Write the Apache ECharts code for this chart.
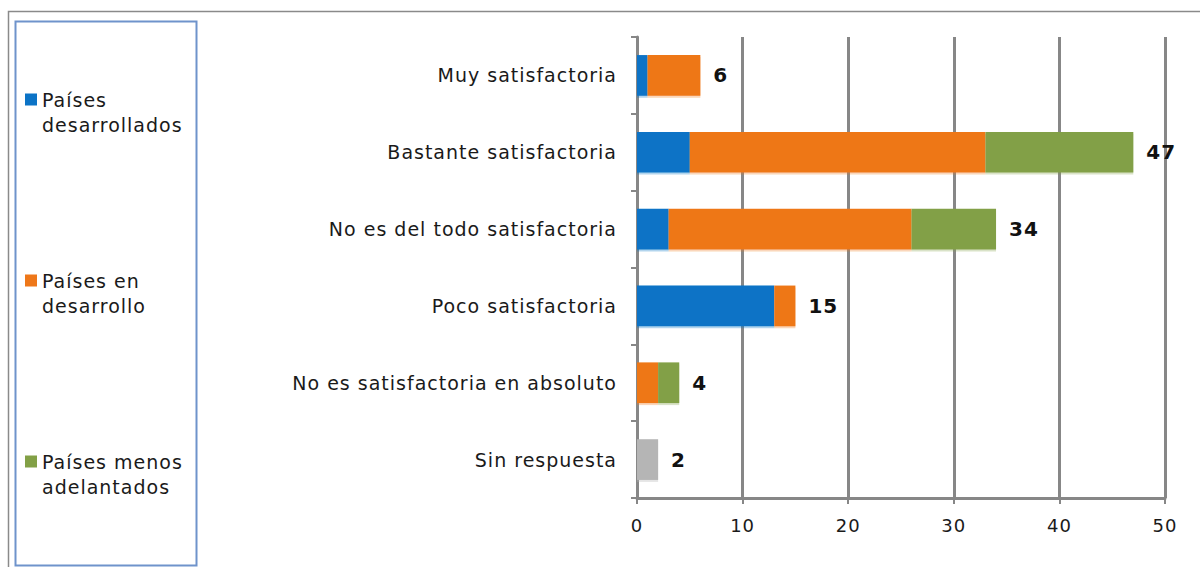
<!DOCTYPE html>
<html>
<head>
<meta charset="utf-8">
<script src="https://cdn.jsdelivr.net/npm/echarts@6/dist/echarts.min.js"></script>
<style>
html,body{margin:0;padding:0;background:#fff;}
#chart{width:1200px;height:567px;letter-spacing:1px;}
</style>
</head>
<body>
<div id="chart"></div>
<script>
var categories = ['Muy satisfactoria','Bastante satisfactoria','No es del todo satisfactoria','Poco satisfactoria','No es satisfactoria en absoluto','Sin respuesta'];
var desarrollados = [1, 5, 3, 13, 0, 0];
var enDesarrollo = [5, 28, 23, 2, 2, 0];
var menosAdelantados = [0, 14, 8, 0, 2, 0];
var sinRespuesta = [0, 0, 0, 0, 0, 2];
var totals = [6, 47, 34, 15, 4, 2];
var xTicks = [0, 10, 20, 30, 40, 50];
var legendNames = ['Países desarrollados','Países en desarrollo','Países menos adelantados'];
var legendLines = {'Países desarrollados':' \nPaíses\ndesarrollados','Países en desarrollo':' \nPaíses en\ndesarrollo','Países menos adelantados':' \nPaíses menos\nadelantados'};
var legendTops = [62, 243, 424];

var FONT = '"DejaVu Sans", Verdana, sans-serif';
var GRID = '#878787';
var chart = echarts.init(document.getElementById('chart'), null, {renderer: 'svg'});

function barSeries(name, data, color, shadow) {
  return {
    name: name, type: 'bar', stack: 'total', data: data,
    barWidth: '53%',
    itemStyle: {color: color, shadowColor: shadow, shadowBlur: 0, shadowOffsetY: 2},
    emphasis: {disabled: true},
    silent: true
  };
}

var legends = legendNames.map(function (n, i) {
  return {
    data: [n],
    orient: 'vertical',
    left: 25,
    top: legendTops[i],
    padding: 0,
    itemWidth: 12,
    itemHeight: 12,
    icon: 'rect',
    selectedMode: false,
    formatter: function (nm) { return legendLines[nm]; },
    textStyle: {fontFamily: FONT, fontSize: 19, color: '#1a1a1a', lineHeight: 25}
  };
});

chart.setOption({
  animation: false,
  backgroundColor: '#fff',
  textStyle: {fontFamily: FONT},
  graphic: [
    {type: 'rect', shape: {x: 8.5, y: 11.5, width: 1200, height: 600}, style: {fill: 'none', stroke: '#8a8a8a', lineWidth: 1.5}, z: -10},
    {type: 'rect', shape: {x: 15.5, y: 21.5, width: 181, height: 544}, style: {fill: 'none', stroke: '#6f93cb', lineWidth: 2}, z: -5}
  ],
  legend: legends,
  grid: {left: 637, right: 35, top: 37, bottom: 69, containLabel: false},
  xAxis: {
    type: 'value', min: 0, max: 50, interval: 10,
    axisLine: {show: true, lineStyle: {color: GRID, width: 3}},
    axisTick: {show: true, length: 6, lineStyle: {color: GRID, width: 2}},
    splitLine: {show: true, lineStyle: {color: GRID, width: 3}},
    axisLabel: {fontFamily: FONT, fontSize: 18, color: '#1a1a1a', margin: 18,
      formatter: function (v) { return xTicks.indexOf(v) >= 0 ? String(v) : ''; }}
  },
  yAxis: {
    type: 'category', data: categories, inverse: true,
    axisLine: {show: true, lineStyle: {color: GRID, width: 3}},
    axisTick: {show: true, length: 6, lineStyle: {color: GRID, width: 2}},
    axisLabel: {fontFamily: FONT, fontSize: 19, color: '#1a1a1a', margin: 20}
  },
  series: [
    barSeries('Países desarrollados', desarrollados, '#0b73c6', 'rgba(11,115,198,0.3)'),
    barSeries('Países en desarrollo', enDesarrollo, '#ee7719', 'rgba(238,119,25,0.3)'),
    barSeries('Países menos adelantados', menosAdelantados, '#82a046', 'rgba(130,160,70,0.3)'),
    barSeries('Sin respuesta', sinRespuesta, '#b5b5b5', 'rgba(181,181,181,0.35)'),
    {
      name: 'Total', type: 'bar', data: totals, barGap: '-100%', barWidth: '53%',
      itemStyle: {color: 'rgba(0,0,0,0)'}, silent: true, z: 10,
      label: {show: true, position: 'right', distance: 13, fontFamily: FONT, fontSize: 20, fontWeight: 'bold', color: '#111'}
    }
  ]
});
</script>
</body>
</html>
